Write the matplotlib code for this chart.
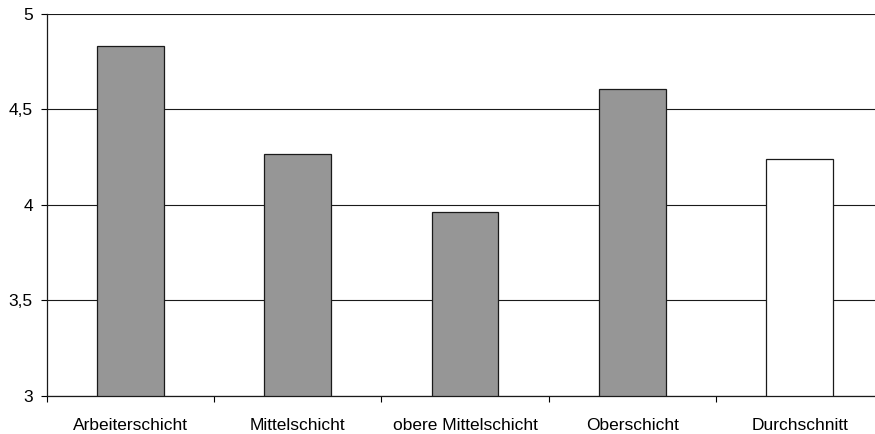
import matplotlib
matplotlib.use("Agg")
import matplotlib.pyplot as plt
from matplotlib.ticker import FixedLocator, FuncFormatter
import numpy as np

categories = ["Arbeiterschicht", "Mittelschicht", "obere Mittelschicht",
              "Oberschicht", "Durchschnitt"]
values = [4.83, 4.265, 3.96, 4.605, 4.24]
fill_colors = ["#969696", "#969696", "#969696", "#969696", "#ffffff"]
y_ticks = [3, 3.5, 4, 4.5, 5]

plt.rcParams["font.family"] = ["Liberation Sans", "DejaVu Sans"]

W, H = 875, 434
fig = plt.figure(figsize=(W / 100, H / 100), dpi=100)
left, right = 46.7, 883.3
bottom, top = 395.5, 14.0
ax = fig.add_axes([left / W, (H - bottom) / H, (right - left) / W, (bottom - top) / H])

x = np.arange(len(categories))
ax.bar(x, [v - 3 for v in values], bottom=3, width=0.4, color=fill_colors,
       edgecolor="#1a1a1a", linewidth=0.9, zorder=3)

ax.set_xlim(-0.5, len(categories) - 0.5)
ax.set_ylim(3, 5)

ax.yaxis.set_major_locator(FixedLocator(y_ticks))
ax.yaxis.set_major_formatter(FuncFormatter(lambda v, p: f"{v:g}".replace(".", ",")))
ax.grid(axis="y", color="#1a1a1a", linewidth=0.8, zorder=0)

ax.set_xticks(x)
ax.set_xticklabels(categories)
ax.set_xticks(np.arange(len(categories) + 1) - 0.5, minor=True)
ax.tick_params(axis="x", which="major", length=0, pad=16, labelsize=12.5)
ax.tick_params(axis="x", which="minor", length=4, width=0.8, direction="out")
ax.tick_params(axis="y", length=4, width=0.8, pad=6, labelsize=12.5)

for side in ("top", "right"):
    ax.spines[side].set_visible(False)
for side in ("left", "bottom"):
    ax.spines[side].set_linewidth(0.9)
    ax.spines[side].set_color("#1a1a1a")
ax.set_axisbelow(True)

fig.savefig("out.png", dpi=100, facecolor="white")
